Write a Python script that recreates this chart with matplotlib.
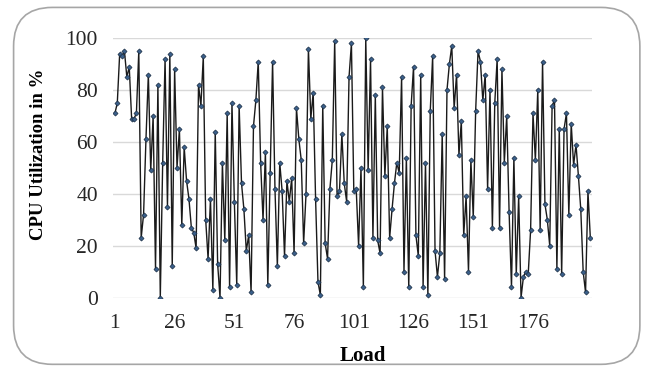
import numpy as np
import matplotlib
matplotlib.use("Agg")
import matplotlib.pyplot as plt
from matplotlib.patches import FancyBboxPatch

# CPU utilisation per load step
cpu_part1 = [71, 75, 94, 93, 95, 85, 89, 69, 69, 71, 95, 23, 32, 61, 86, 49, 70, 11, 82, 0, 52, 92, 35]
cpu_part2 = [94, 12, 88, 50, 65, 28, 58, 45, 38, 27, 25, 19, 82, 74, 93, 30, 15, 38, 3, 64, 13, 0, 52, 22, 71, 4, 75]
cpu_part3 = [37, 5, 74, 44, 34, 18, 24, 2, 66, 76, 91, 52, 30, 56, 5, 48, 91, 42, 12, 52, 41, 16, 45, 37, 46]
cpu_part4 = [17, 73, 61, 53, 21, 40, 96, 69, 79, 38, 6, 1, 74, 21, 15, 42, 53, 99, 39, 41, 63, 44, 37, 85, 98]
cpu_part5 = [41, 42, 20, 50, 4, 100, 49, 92, 23, 78, 22, 17, 81, 47, 66, 23, 34, 44, 52, 48, 85, 10, 54, 4, 74, 89]
cpu_part6 = [24, 16, 86, 4, 52, 1, 72, 93, 18, 8, 17, 63, 7, 80, 90, 97, 73, 86, 55, 68, 24, 39, 10, 53]
cpu_part7 = [31, 72, 95, 91, 76, 86, 42, 80, 27, 75, 92, 27, 88, 52, 70, 33, 4, 54, 9, 39, 0, 8, 10, 9, 26, 71]
cpu_part8 = [53, 80, 26, 91, 36, 30, 20, 74, 76, 11, 65, 9, 65, 71, 32, 67, 51, 59, 47, 34, 10, 2, 41, 23]

cpu = np.array(cpu_part1 + cpu_part2 + cpu_part3 + cpu_part4
               + cpu_part5 + cpu_part6 + cpu_part7 + cpu_part8)
load = np.arange(1, len(cpu) + 1)

x_ticks = [1, 26, 51, 76, 101, 126, 151, 176]
y_ticks = [0, 20, 40, 60, 80, 100]

plt.rcParams["font.family"] = ["Liberation Serif", "DejaVu Serif"]

fig = plt.figure(figsize=(6.47, 3.71), dpi=100)
ax = fig.add_axes([0.175, 0.198, 0.74, 0.699])

# rounded chart border
border = FancyBboxPatch((0.021, 0.018), 0.968, 0.962,
                        boxstyle="round,pad=0,rounding_size=0.06",
                        transform=fig.transFigure, fill=False,
                        edgecolor="#a6a6a6", linewidth=1.2, mutation_aspect=1.74)
fig.patches.append(border)

ax.plot(load, cpu, color="#1a1a1a", linewidth=1.0, marker="D", markersize=2.6,
        markerfacecolor="#3a5f8a", markeredgecolor="#1c2f45", markeredgewidth=0.5)

ax.set_xlim(0.3, len(cpu) + 0.7)
ax.set_ylim(0, 100)
ax.set_xticks(x_ticks)
ax.set_yticks(y_ticks)
ax.tick_params(length=0, labelsize=15.5, colors="#262626")
ax.tick_params(axis="x", pad=12)
ax.tick_params(axis="y", pad=11)
ax.grid(axis="y", color="#d9d9d9", linewidth=1)
ax.set_axisbelow(True)
for s in ax.spines.values():
    s.set_visible(False)

ax.set_xlabel("Load", fontsize=15, fontweight="bold", va="top")
ax.xaxis.set_label_coords(0.521, -0.185)
ax.set_ylabel("CPU Utilization in %", fontsize=13.5, fontweight="bold")
ax.yaxis.set_label_coords(-0.139, 0.552)

fig.savefig("out.png", dpi=100)
